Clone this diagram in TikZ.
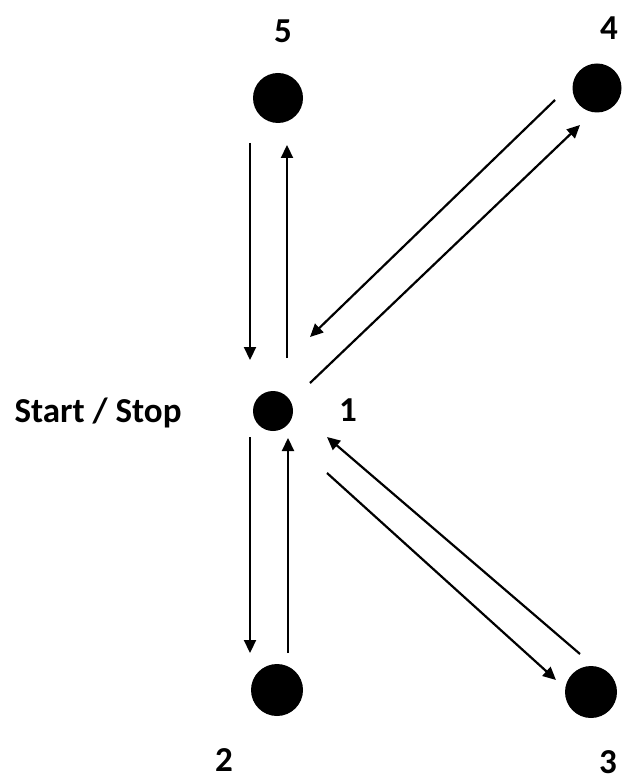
\documentclass[tikz,border=0pt]{standalone}
\usepackage{fontspec}
\setmainfont{Carlito}
\usetikzlibrary{arrows.meta}
\begin{document}
\begin{tikzpicture}[x=1pt,y=-1pt,
  dot/.style={circle,fill=black,draw=none,inner sep=0pt,minimum size=#1},
  lbl/.style={font=\bfseries\fontsize{35}{35}\selectfont,inner sep=0pt,anchor=base},
  arr/.style={line width=2.2pt,-{Triangle[length=13pt,width=12pt]}},
  ln/.style={line width=2.2pt}]
\useasboundingbox (0,0) rectangle (621,783);
% nodes
\node[dot=50pt] (n5) at (278,98) {};
\node[dot=49pt] (n4) at (597,88) {};
\node[dot=40pt] (n1) at (273,411) {};
\node[dot=52pt] (n2) at (277,690) {};
\node[dot=52pt] (n3) at (591,692) {};
% labels
\node[lbl] (l5) at (283,43) {5};
\node[lbl] (l4) at (609,40) {4};
\node[lbl] (l1) at (348,421) {1};
\node[lbl] (lss) at (98,422) {Start / Stop};
\node[lbl] (l2) at (224,771) {2};
\node[lbl] (l3) at (608,773) {3};
% connector end points
\coordinate (a1) at (250,143); \coordinate (a2) at (250,360);
\coordinate (b1) at (287,358); \coordinate (b2) at (287,145);
\coordinate (c1) at (555,100); \coordinate (c2) at (310,337);
\coordinate (d1) at (310,383); \coordinate (d2) at (580,125);
\coordinate (e1) at (580,654); \coordinate (e2) at (327,437);
\coordinate (f1) at (327,473); \coordinate (f2) at (556,680);
\coordinate (g1) at (250,437); \coordinate (g2) at (250,653);
\coordinate (h1) at (288,653); \coordinate (h2) at (288,438);
% connectors
\draw[arr] (a1) -- (a2);
\draw[arr] (b1) -- (b2);
\draw[arr] (c1) -- (c2);
\draw[arr] (d1) -- (d2);
\draw[arr] (e1) -- (e2);
\draw[arr] (f1) -- (f2);
\draw[arr] (g1) -- (g2);
\draw[arr] (h1) -- (h2);
\end{tikzpicture}
\end{document}
